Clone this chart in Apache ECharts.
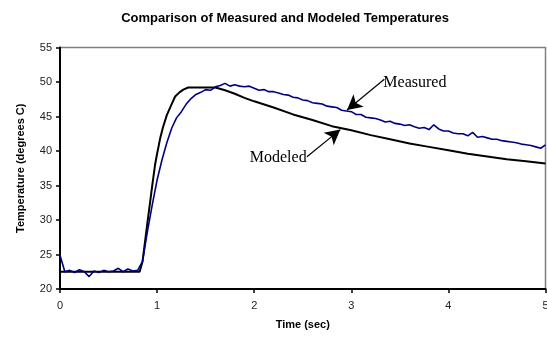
<!DOCTYPE html>
<html>
<head>
<meta charset="utf-8">
<title>Comparison of Measured and Modeled Temperatures</title>
<script src="https://cdn.jsdelivr.net/npm/echarts@6/dist/echarts.min.js"></script>
<style>
  html, body { margin: 0; padding: 0; background: #fff; }
  #chart { width: 547px; height: 343px; }
</style>
</head>
<body>
<div id="chart"></div>
<script>
// measured temperature, one sample every 0.05 s from 0 to 5 s
const sampleStep = 0.05
const measuredTemp = [
  24.9, 22.5, 22.7, 22.4, 22.8, 22.5, 21.8, 22.6, 22.4, 22.7,
  22.5, 22.6, 23.0, 22.5, 22.9, 22.6, 22.7, 24.0, 28.3, 32.2,
  35.8, 38.7, 41.2, 43.3, 44.8, 45.7, 46.8, 47.6, 48.2, 48.5,
  48.9, 48.8, 49.3, 49.5, 49.8, 49.4, 49.6, 49.4, 49.3, 49.4,
  49.1, 48.8, 48.9, 48.6, 48.6, 48.4, 48.2, 48.1, 47.8, 47.7,
  47.4, 47.3, 47.0, 46.9, 46.8, 46.5, 46.4, 46.3, 45.9, 45.8,
  45.7, 45.3, 45.3, 44.9, 44.8, 44.7, 44.5, 44.2, 44.3, 44.0,
  43.9, 43.7, 43.8, 43.5, 43.3, 43.4, 43.1, 43.8, 43.2, 42.9,
  42.9, 42.6, 42.5, 42.5, 42.2, 42.7, 42.0, 42.1, 41.9, 41.7,
  41.7, 41.5, 41.4, 41.3, 41.2, 41.0, 40.9, 40.8, 40.6, 40.4,
  40.9
]

// modeled temperature
const modeledTime = [
  0, 0.82, 0.85, 0.876, 0.90, 0.928, 0.95, 0.979, 1.00, 1.031,
  1.06, 1.10, 1.15, 1.186, 1.23, 1.27, 1.32, 1.60, 1.70, 1.80,
  1.90, 2.00, 2.20, 2.40, 2.60, 2.80, 3.00, 3.20, 3.40, 3.60,
  3.80, 4.00, 4.20, 4.40, 4.60, 4.80, 5.00
]
const modeledTemp = [
  22.5, 22.5, 24.0, 26.9, 29.6, 32.6, 35.0, 38.0, 39.6, 41.8,
  43.4, 45.2, 46.8, 47.9, 48.5, 48.9, 49.2, 49.2, 48.8, 48.3,
  47.7, 47.2, 46.3, 45.3, 44.5, 43.6, 43.0, 42.3, 41.7, 41.1,
  40.6, 40.1, 39.6, 39.2, 38.8, 38.5, 38.2
]

// annotation arrows: [start, tip] in (time, temperature)
const measuredArrow = [[3.34, 50.4], [2.956, 45.94]]
const modeledArrow = [[2.543, 39.17], [2.887, 43.1]]
const measuredLabelAt = [3.33, 49.9]
const modeledLabelAt = [2.54, 39.0]

const xTicks = [0, 5, 1]   // min, max, interval
const yTicks = [20, 55, 5]

const measuredData = measuredTemp.map((v, i) => [+(i * sampleStep).toFixed(2), v])
const modeledData = modeledTime.map((t, i) => [t, modeledTemp[i]])

const axisFont = 'Liberation Sans, Arial, sans-serif'
const noteFont = 'Liberation Serif, Times New Roman, serif'

const chart = echarts.init(document.getElementById('chart'), null, { renderer: 'canvas' })
chart.setOption({
  animation: false,
  backgroundColor: '#fff',
  title: {
    text: 'Comparison of Measured and Modeled Temperatures',
    left: 280,
    top: 7,
    textAlign: 'center',
    textStyle: { fontFamily: axisFont, fontSize: 13, fontWeight: 'bold', color: '#000' }
  },
  grid: {
    left: 60,
    right: 1.5,
    top: 47.5,
    bottom: 54,
    containLabel: false,
    outerBoundsMode: 'none',
    show: true,
    borderColor: '#808080',
    borderWidth: 1.5
  },
  xAxis: {
    type: 'value',
    min: xTicks[0],
    max: xTicks[1],
    interval: xTicks[2],
    name: 'Time (sec)',
    nameLocation: 'middle',
    nameGap: 30,
    nameTextStyle: { fontFamily: axisFont, fontSize: 11, fontWeight: 'bold', color: '#000' },
    axisLine: { lineStyle: { color: '#000', width: 2 } },
    axisTick: { show: true, length: 4, lineStyle: { color: '#000', width: 1.5 } },
    axisLabel: { fontFamily: axisFont, fontSize: 11, color: '#222', margin: 11, hideOverlap: false },
    splitLine: { show: false }
  },
  yAxis: {
    type: 'value',
    min: yTicks[0],
    max: yTicks[1],
    interval: yTicks[2],
    name: 'Temperature (degrees C)',
    nameLocation: 'middle',
    nameGap: 34,
    nameTextStyle: { fontFamily: axisFont, fontSize: 11, fontWeight: 'bold', color: '#000' },
    axisLine: { show: true, lineStyle: { color: '#000', width: 2 } },
    axisTick: { show: true, length: 4, lineStyle: { color: '#000', width: 1.5 } },
    axisLabel: { fontFamily: axisFont, fontSize: 11, color: '#222', margin: 8 },
    splitLine: { show: false }
  },
  series: [{
    name: 'Modeled',
    type: 'line',
    data: modeledData,
    showSymbol: false,
    lineStyle: { color: '#000', width: 2 },
    z: 2,
    markLine: {
      silent: true,
      symbol: ['none', 'arrow'],
      symbolSize: [12, 15],
      lineStyle: { color: '#000', width: 1.2, type: 'solid' },
      label: { show: false },
      data: [
        [{ coord: measuredArrow[0] }, { coord: measuredArrow[1] }],
        [{ coord: modeledArrow[0] }, { coord: modeledArrow[1] }]
      ]
    },
    markPoint: {
      silent: true,
      symbol: 'circle',
      symbolSize: 0,
      label: { show: true, fontFamily: noteFont, fontSize: 16, color: '#000', distance: 0 },
      data: [
        { coord: measuredLabelAt, label: { position: 'right', formatter: 'Measured' } },
        { coord: modeledLabelAt, label: { position: 'left', formatter: 'Modeled' } }
      ]
    }
  }, {
    name: 'Measured',
    type: 'line',
    data: measuredData,
    showSymbol: false,
    lineStyle: { color: '#000080', width: 1.6 },
    z: 3
  }]
})
</script>
</body>
</html>
